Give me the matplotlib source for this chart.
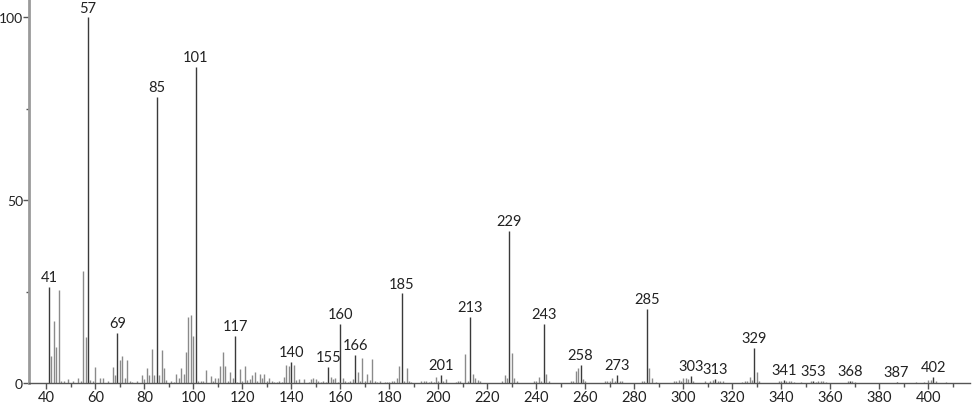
import matplotlib
matplotlib.use("Agg")
import matplotlib.pyplot as plt
from matplotlib.ticker import MultipleLocator

# m/z values and relative intensities
mz = [41, 42, 43, 44, 45, 46, 47, 49, 51, 53, 54, 55, 56, 57, 58, 59, 60, 62, 63, 65,
      67, 68, 69, 70, 71, 72, 73, 74, 75, 77, 79, 80, 81, 82, 83, 84, 85, 86, 87, 88,
      89, 91, 92, 93, 94, 95, 96, 97, 98, 99, 100, 101, 102, 103, 104, 105, 107, 108, 109, 110,
      111, 112, 113, 114, 115, 116, 117, 118, 119, 120, 121, 122, 123, 124, 125, 126, 127, 128, 129, 130,
      131, 132, 133, 134, 135, 136, 137, 138, 139, 140, 141, 142, 143, 145, 147, 148, 149, 150, 151, 152,
      153, 154, 155, 156, 157, 158, 159, 160, 161, 162, 163, 164, 165, 166, 167, 168, 169, 170, 171, 172,
      173, 174, 175, 176, 178, 179, 180, 181, 182, 183, 184, 185, 186, 187, 188, 189, 193, 194, 195, 196,
      197, 198, 199, 200, 201, 202, 203, 207, 208, 209, 211, 212, 213, 214, 215, 216, 217, 226, 227, 228,
      229, 230, 231, 232, 239, 240, 241, 242, 243, 244, 245, 254, 255, 256, 257, 258, 259, 260, 268, 269,
      270, 271, 272, 273, 274, 275, 283, 284, 285, 286, 287, 289, 296, 297, 298, 299, 300, 301, 302, 303,
      304, 309, 311, 312, 313, 314, 315, 316, 324, 325, 326, 327, 328, 329, 330, 331, 339, 340, 341, 342,
      343, 344, 345, 348, 352, 353, 354, 355, 356, 357, 358, 367, 368, 369, 370, 387, 395, 398, 400, 401,
      402, 403, 407]
intensity = [26.4, 7.5, 16.9, 9.9, 25.5, 0.5, 0.5, 1.1, 0.5, 1.3, 0.5, 30.6, 12.6, 100, 0.8, 0.5, 4.4, 1.5, 1.5, 0.5,
             4.4, 2.3, 13.8, 6.4, 7.4, 1.5, 6.3, 0.5, 0.3, 0.5, 2.3, 1.2, 4.1, 2.3, 9.3, 2.2, 78.2, 2.2, 9.0, 4.0,
             0.8, 0.5, 0.3, 2.4, 1.3, 4.2, 2.4, 8.6, 18.1, 18.5, 12.8, 86.5, 0.7, 0.5, 0.7, 3.5, 1.8, 0.5, 1.5, 1.5,
             4.6, 8.5, 4.6, 0.5, 3.0, 1.3, 13.0, 0.4, 3.8, 0.5, 4.8, 0.8, 1.2, 2.2, 3.1, 0.5, 2.4, 1.4, 2.5, 0.5,
             1.5, 0.5, 0.4, 0.4, 0.5, 0.4, 1.6, 4.9, 4.6, 5.8, 4.9, 0.8, 1.0, 1.0, 0.4, 1.0, 1.5, 1.0, 0.5, 0.4,
             0.5, 0.4, 4.4, 1.6, 1.0, 1.5, 0.4, 16.1, 1.5, 0.5, 0.4, 0.5, 1.0, 7.7, 2.9, 0.6, 6.8, 0.5, 2.5, 0.8,
             6.6, 0.5, 0.4, 0.5, 0.4, 0.4, 0.4, 0.5, 0.5, 1.5, 4.8, 24.5, 0.5, 4.0, 0.5, 0.4, 0.5, 0.5, 0.5, 0.4,
             0.5, 0.4, 1.7, 0.5, 2.3, 0.7, 1.1, 0.4, 0.5, 0.5, 7.9, 0.5, 18.0, 2.5, 1.4, 0.8, 0.5, 0.5, 2.2, 1.5,
             41.6, 8.3, 1.4, 0.5, 0.5, 0.5, 1.6, 0.7, 16.2, 2.5, 0.5, 0.5, 0.5, 3.3, 4.2, 4.9, 1.1, 0.5, 0.5, 0.5,
             0.6, 1.4, 0.7, 2.3, 0.7, 0.5, 0.5, 0.5, 20.3, 4.0, 1.4, 0.4, 0.6, 0.6, 0.8, 0.6, 1.3, 1.3, 1.2, 2.0,
             0.5, 0.5, 0.5, 0.8, 1.1, 0.7, 0.5, 0.6, 0.4, 0.5, 0.5, 1.7, 0.8, 9.6, 2.9, 0.6, 0.6, 0.6, 0.8, 0.6,
             0.7, 0.5, 0.4, 0.4, 0.5, 0.6, 0.4, 0.6, 0.5, 0.5, 0.4, 0.6, 0.6, 0.5, 0.4, 0.3, 0.4, 0.4, 0.8, 0.9,
             1.6, 0.7, 0.3]

# peaks that carry an m/z label
labeled = [41, 57, 69, 85, 101, 117, 140, 155, 160, 166, 185, 201, 213, 229, 243, 258,
           273, 285, 303, 313, 329, 341, 353, 368, 387, 402]

plt.rcParams["font.family"] = ["Lato", "DejaVu Sans"]

fig = plt.figure(figsize=(9.74, 4.06), dpi=100)
ax = fig.add_axes([0.030, 0.054, 0.966, 0.946])

lab_x = [m for m in mz if m in labeled]
lab_y = [intensity[mz.index(m)] for m in lab_x]
oth_x = [m for m in mz if m not in labeled]
oth_y = [intensity[mz.index(m)] for m in oth_x]

ax.vlines(oth_x, 0, oth_y, color="#8a8a8a", linewidth=1.0)
ax.vlines(lab_x, 0, lab_y, color="#3a3a3a", linewidth=1.0)

for m, v in zip(lab_x, lab_y):
    ax.annotate(str(m), (m, v), xytext=(0, 2), textcoords="offset points",
                ha="center", va="bottom", fontsize=10.5, color="#222222")

ax.set_xlim(33, 417)
ax.set_ylim(0, 105)

ax.xaxis.set_major_locator(MultipleLocator(20))
ax.xaxis.set_minor_locator(MultipleLocator(10))
ax.yaxis.set_major_locator(MultipleLocator(50))
ax.yaxis.set_minor_locator(MultipleLocator(25))

ax.tick_params(axis="x", which="major", length=4, width=1, color="#555555",
               labelsize=10.5, labelcolor="#222222", pad=1)
ax.tick_params(axis="x", which="minor", length=3, width=1, color="#555555")
ax.tick_params(axis="y", which="major", length=4, width=1, color="#555555",
               labelsize=10, labelcolor="#222222", pad=0.5)
ax.tick_params(axis="y", which="minor", length=2, width=1, color="#555555")

for side in ["top", "right"]:
    ax.spines[side].set_visible(False)
ax.spines["left"].set_color("#9a9a9a")
ax.spines["left"].set_linewidth(2)
ax.spines["bottom"].set_color("#555555")
ax.spines["bottom"].set_linewidth(1)

fig.savefig("out.png", dpi=100)
